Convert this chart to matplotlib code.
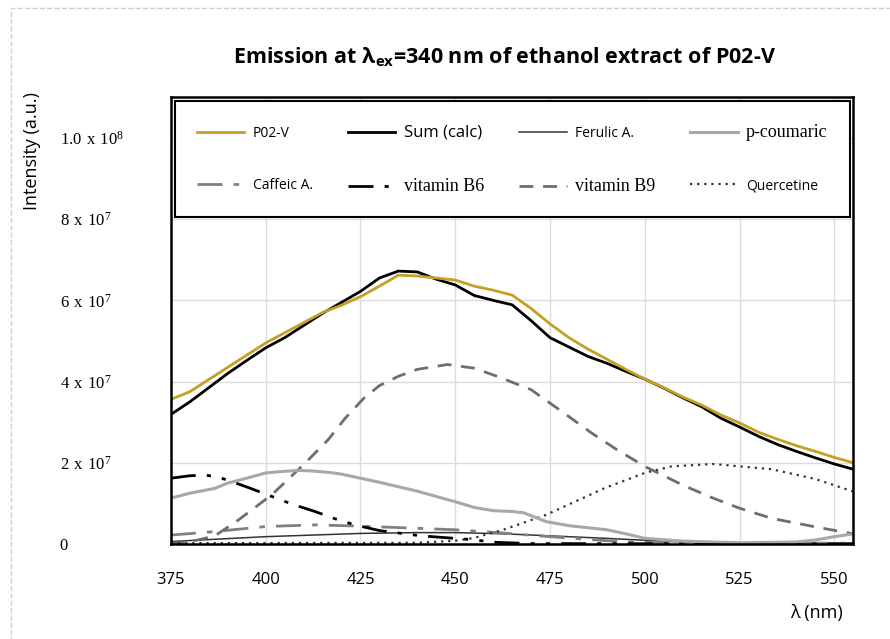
import matplotlib
matplotlib.use("Agg")
import matplotlib.pyplot as plt
from matplotlib.patches import Rectangle

plt.rcParams['font.family'] = ['Open Sans', 'DejaVu Sans']

# wavelengths (nm) and intensities (x 1e7 a.u.)
wl_main = [375, 380, 385, 390, 395, 400, 405, 410, 415, 420, 425, 430, 435, 440,
           445, 450, 455, 460, 465, 470, 475, 480, 485, 490, 495, 500, 505, 510,
           515, 520, 525, 530, 535, 540, 545, 550, 555]
p02v = [3.56, 3.75, 4.05, 4.35, 4.65, 4.95, 5.2, 5.45, 5.7, 5.88, 6.09, 6.35, 6.62, 6.6,
        6.55, 6.5, 6.35, 6.25, 6.13, 5.8, 5.42, 5.08, 4.8, 4.55, 4.3, 4.06, 3.85, 3.62,
        3.42, 3.18, 2.98, 2.75, 2.58, 2.42, 2.28, 2.13, 2.0]
sum_calc = [3.19, 3.5, 3.85, 4.2, 4.52, 4.83, 5.08, 5.38, 5.68, 5.95, 6.22, 6.55, 6.72, 6.7,
            6.52, 6.38, 6.12, 6.0, 5.89, 5.5, 5.08, 4.85, 4.62, 4.45, 4.25, 4.06, 3.84, 3.6,
            3.38, 3.1, 2.88, 2.65, 2.45, 2.28, 2.12, 1.97, 1.84]

wl_fer = [375, 400, 425, 440, 450, 463, 475, 489.5, 507, 520, 555]
ferulic = [0.06, 0.18, 0.26, 0.28, 0.28, 0.25, 0.2, 0.14, 0.06, 0.03, 0.02]

wl_cou = [375, 380, 386.6, 390, 395, 400, 405, 408.6, 412, 417, 420, 425, 430, 435, 440,
          445, 450, 455, 460, 465, 468, 474, 480, 490, 495, 500, 510, 525, 540, 545, 550, 555]
coumaric = [1.13, 1.25, 1.37, 1.5, 1.62, 1.75, 1.79, 1.81, 1.8, 1.76, 1.72, 1.62, 1.52, 1.41, 1.3,
            1.17, 1.04, 0.9, 0.82, 0.8, 0.77, 0.55, 0.45, 0.35, 0.25, 0.14, 0.07, 0.03, 0.05, 0.1, 0.18, 0.25]

wl_caf = [375, 386, 400, 413, 425, 450, 461, 475, 490, 500, 520, 555]
caffeic = [0.22, 0.3, 0.43, 0.47, 0.44, 0.35, 0.28, 0.18, 0.08, 0.04, 0.02, 0.02]

wl_b6 = [375, 380, 384, 388, 391, 396, 401.6, 407, 413, 418, 423.5, 430, 441, 452.6, 461, 470, 555]
vit_b6 = [1.62, 1.68, 1.7, 1.63, 1.54, 1.37, 1.17, 0.98, 0.8, 0.63, 0.47, 0.33, 0.2, 0.12, 0.04, 0.01, 0.0]

wl_b9 = [375, 380, 386.6, 392.8, 401.6, 410.4, 416.5, 421, 426, 430, 435, 440, 448, 451, 455,
         461, 470, 478, 486, 493, 500, 510, 518, 525, 533.5, 545, 555]
vit_b9 = [0.02, 0.05, 0.2, 0.59, 1.21, 1.99, 2.57, 3.1, 3.6, 3.9, 4.13, 4.3, 4.42, 4.38, 4.33,
          4.13, 3.8, 3.27, 2.73, 2.3, 1.91, 1.45, 1.13, 0.88, 0.63, 0.42, 0.25]

wl_que = [375, 440, 450, 455, 463, 474, 489.5, 500, 507, 518, 533.5, 545, 555]
querc = [0.02, 0.03, 0.08, 0.15, 0.36, 0.72, 1.38, 1.75, 1.91, 1.97, 1.84, 1.6, 1.29]

x_ticks = [375, 400, 425, 450, 475, 500, 525, 550]
y_ticks = [0, 2e7, 4e7, 6e7, 8e7, 1e8]
y_tick_labels = ['0', r'$\mathregular{2\ x\ 10^{7}}$', r'$\mathregular{4\ x\ 10^{7}}$',
                 r'$\mathregular{6\ x\ 10^{7}}$', r'$\mathregular{8\ x\ 10^{7}}$',
                 r'$\mathregular{1.0\ x\ 10^{8}}$']

def sc(v):
    return [a * 1e7 for a in v]

fig = plt.figure(figsize=(8.9, 6.39), dpi=100)
ax = fig.add_axes([0.192, 0.1487, 0.766, 0.699])

gold = '#C4A024'
l_fer, = ax.plot(wl_fer, sc(ferulic), color='#333333', lw=1.1, label='Ferulic A.')
l_caf, = ax.plot(wl_caf, sc(caffeic), color='#808080', lw=2, dashes=(9, 4, 2, 4), label='Caffeic A.')
l_b6, = ax.plot(wl_b6, sc(vit_b6), color='black', lw=2, dashes=(9, 4, 1.5, 4, 1.5, 4), label='vitamin B6')
l_b9, = ax.plot(wl_b9, sc(vit_b9), color='#6e6e6e', lw=2, dashes=(5, 3.5), label='vitamin B9')
l_que, = ax.plot(wl_que, sc(querc), color='#333333', lw=1.6, dashes=(1, 2.2), label='Quercetine')
l_cou, = ax.plot(wl_cou, sc(coumaric), color='#a8a8a8', lw=2.2, label='p-coumaric')
l_sum, = ax.plot(wl_main, sc(sum_calc), color='black', lw=2, label='Sum (calc)')
l_p02, = ax.plot(wl_main, sc(p02v), color=gold, lw=2, label='P02-V')

ax.set_xlim(375, 554.8)
ax.set_ylim(0, 1.1e8)
ax.set_xticks(x_ticks)
ax.set_yticks(y_ticks)
ax.set_yticklabels(y_tick_labels)
ax.grid(True, color='#dcdcdc', lw=1)
ax.set_axisbelow(True)
ax.tick_params(axis='both', length=0)
ax.tick_params(axis='x', labelsize=12, pad=20)
ax.tick_params(axis='y', labelsize=12, pad=80)
for t in ax.get_yticklabels():
    t.set_family('Liberation Serif')
    t.set_horizontalalignment('left')
for s in ax.spines.values():
    s.set_linewidth(1.8)
    s.set_color('black')

ax.set_ylabel('Intensity (a.u.)', fontsize=13)
ax.yaxis.set_label_coords(-0.19, 0.88)
ax.set_xlabel('λ (nm)', fontsize=13, ha='right')
ax.xaxis.set_label_coords(0.985, -0.135)

fig.text(0.567, 0.91, r'Emission at λ$_{\mathregular{ex}}$=340 nm of ethanol extract of P02-V',
         fontsize=15.5, fontweight='bold', ha='center', va='center')

handles = [l_p02, l_caf, l_sum, l_b6, l_fer, l_b9, l_cou, l_que]
leg = ax.legend(handles=handles, ncol=4, mode='expand', loc='upper left',
                bbox_to_anchor=(0.006, 0.0, 0.99, 0.991), fontsize=10, borderaxespad=0,
                frameon=True, fancybox=False, framealpha=1, edgecolor='black',
                handlelength=3.4, labelspacing=2.7, borderpad=1.6, handletextpad=0.6,
                columnspacing=1.0)
leg.get_frame().set_linewidth(1.5)
for t in leg.get_texts():
    lab = t.get_text()
    if lab in ('p-coumaric', 'vitamin B6', 'vitamin B9'):
        t.set_family('Liberation Serif')
        t.set_fontsize(13)
    elif lab == 'Sum (calc)':
        t.set_fontsize(12)

fig.patches.append(Rectangle((0.012, -0.1), 1.2, 1.0875, transform=fig.transFigure,
                             fill=False, ls='--', ec='#cfcfcf', lw=1))

fig.savefig('out.png', dpi=100)
